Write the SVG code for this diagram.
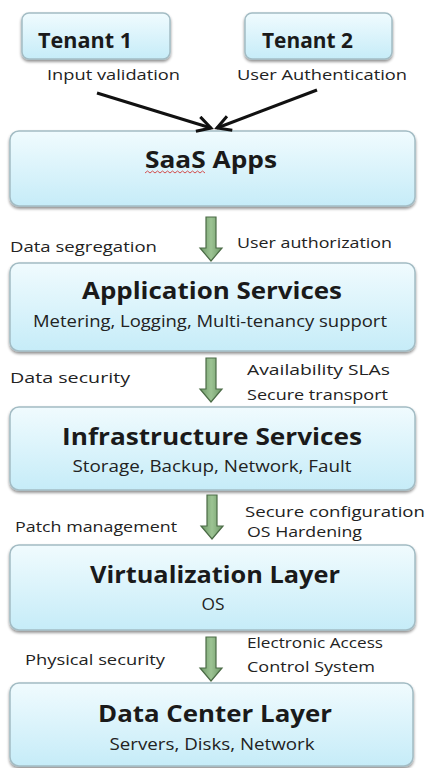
<svg xmlns="http://www.w3.org/2000/svg" xmlns:xlink="http://www.w3.org/1999/xlink" width="426" height="768" viewBox="0 0 426 768">
  <defs>
    <linearGradient id="boxFill" x1="0" y1="0" x2="0" y2="1">
      <stop offset="0" stop-color="#f0fbfe"/>
      <stop offset="1" stop-color="#c6ecf8"/>
    </linearGradient>
    <linearGradient id="greenFill" x1="0" y1="0" x2="1" y2="0">
      <stop offset="0" stop-color="#6d9967"/>
      <stop offset="0.5" stop-color="#9cc393"/>
      <stop offset="1" stop-color="#6d9967"/>
    </linearGradient>
    <filter id="shadow" x="-5%" y="-10%" width="110%" height="130%">
      <feGaussianBlur in="SourceAlpha" stdDeviation="1.5"/>
      <feOffset dx="0" dy="2" result="b"/>
      <feComponentTransfer><feFuncA type="linear" slope="0.45"/></feComponentTransfer>
      <feMerge><feMergeNode/><feMergeNode in="SourceGraphic"/></feMerge>
    </filter>
    <marker id="vhead" viewBox="0 0 12 12" refX="10" refY="6" markerWidth="6" markerHeight="6" orient="auto" markerUnits="strokeWidth">
      <path d="M1,1 L10,6 L1,11" fill="none" stroke="#111" stroke-width="2"/>
    </marker>
    <path id="garrow" d="M-5,0 H5 V31 H11 L0,44 L-11,31 H-5 Z"/>
  </defs>
  <style>
    .box { fill: url(#boxFill); stroke: #a3bcc4; stroke-width: 1.5; filter: url(#shadow); }
    .title { font-family: "Open Sans", "Liberation Sans", sans-serif; font-weight: bold; font-size: 24px; fill: #1a1a1a; text-anchor: middle; }
    .tenant { font-family: "Open Sans", "Liberation Sans", sans-serif; font-weight: bold; font-size: 21px; fill: #1a1a1a; }
    .sub { font-family: "Open Sans", "Liberation Sans", sans-serif; font-size: 16px; fill: #222; text-anchor: middle; }
    .lbl { font-family: "Open Sans", "Liberation Sans", sans-serif; font-size: 15px; fill: #222; }
    .blk { stroke: #111; stroke-width: 3; fill: none; marker-end: url(#vhead); }
    .grn { fill: url(#greenFill); stroke: #4b6b46; stroke-width: 1.2; }
  </style>
  <rect width="426" height="768" fill="#ffffff"/>

  <g id="tenant1">
    <rect class="box" x="22" y="13" width="148" height="46" rx="7"/>
    <text class="tenant" x="38" y="48" textLength="94" lengthAdjust="spacingAndGlyphs">Tenant 1</text>
  </g>
  <g id="tenant2">
    <rect class="box" x="245" y="13" width="147" height="46" rx="7"/>
    <text class="tenant" x="262" y="48" textLength="91" lengthAdjust="spacingAndGlyphs">Tenant 2</text>
  </g>

  <g id="saas">
    <rect class="box" x="10" y="131" width="405" height="75" rx="9"/>
    <text class="title" x="211" y="168" textLength="132" lengthAdjust="spacingAndGlyphs">SaaS Apps</text>
    <path d="M145,173 l2.5,-2 l2.5,2 l2.5,-2 l2.5,2 l2.5,-2 l2.5,2 l2.5,-2 l2.5,2 l2.5,-2 l2.5,2 l2.5,-2 l2.5,2 l2.5,-2 l2.5,2 l2.5,-2 l2.5,2 l2.5,-2 l2.5,2 l2.5,-2 l2.5,2 l2.5,-2 l2.5,2 l2.5,-2 l2.5,2" fill="none" stroke="#d23c3c" stroke-width="0.9"/>
  </g>

  <g id="appservices">
    <rect class="box" x="10" y="263" width="405" height="88" rx="9"/>
    <text class="title" x="212" y="299" textLength="260" lengthAdjust="spacingAndGlyphs">Application Services</text>
    <text class="sub" x="210" y="327" textLength="354" lengthAdjust="spacingAndGlyphs">Metering, Logging, Multi-tenancy support</text>
  </g>

  <g id="infraservices">
    <rect class="box" x="10" y="407" width="405" height="83" rx="9"/>
    <text class="title" x="212" y="445" textLength="300" lengthAdjust="spacingAndGlyphs">Infrastructure Services</text>
    <text class="sub" x="212" y="472" textLength="279" lengthAdjust="spacingAndGlyphs">Storage, Backup, Network, Fault</text>
  </g>

  <g id="virtualization">
    <rect class="box" x="10" y="545" width="405" height="85" rx="9"/>
    <text class="title" x="215" y="583" textLength="250" lengthAdjust="spacingAndGlyphs">Virtualization Layer</text>
    <text class="sub" x="213" y="610" textLength="23" lengthAdjust="spacingAndGlyphs">OS</text>
  </g>

  <g id="datacenter">
    <rect class="box" x="10" y="683" width="403" height="83" rx="9"/>
    <text class="title" x="215" y="722" textLength="234" lengthAdjust="spacingAndGlyphs">Data Center Layer</text>
    <text class="sub" x="212" y="750" textLength="205" lengthAdjust="spacingAndGlyphs">Servers, Disks, Network</text>
  </g>

  <g id="labels">
    <text class="lbl" x="47" y="80" textLength="133" lengthAdjust="spacingAndGlyphs">Input validation</text>
    <text class="lbl" x="237" y="80" textLength="170" lengthAdjust="spacingAndGlyphs">User Authentication</text>
    <text class="lbl" x="10" y="252" textLength="147" lengthAdjust="spacingAndGlyphs">Data segregation</text>
    <text class="lbl" x="237" y="248" textLength="155" lengthAdjust="spacingAndGlyphs">User authorization</text>
    <text class="lbl" x="10" y="383" textLength="120" lengthAdjust="spacingAndGlyphs">Data security</text>
    <text class="lbl" x="247" y="375" textLength="143" lengthAdjust="spacingAndGlyphs">Availability SLAs</text>
    <text class="lbl" x="247" y="400" textLength="141" lengthAdjust="spacingAndGlyphs">Secure transport</text>
    <text class="lbl" x="245" y="517" textLength="180" lengthAdjust="spacingAndGlyphs">Secure configuration</text>
    <text class="lbl" x="15" y="532" textLength="162" lengthAdjust="spacingAndGlyphs">Patch management</text>
    <text class="lbl" x="247" y="537" textLength="115" lengthAdjust="spacingAndGlyphs">OS Hardening</text>
    <text class="lbl" x="247" y="648" textLength="136" lengthAdjust="spacingAndGlyphs">Electronic Access</text>
    <text class="lbl" x="25" y="665" textLength="140" lengthAdjust="spacingAndGlyphs">Physical security</text>
    <text class="lbl" x="247" y="672" textLength="128" lengthAdjust="spacingAndGlyphs">Control System</text>
  </g>

  <g id="connectors">
    <line class="blk" x1="97" y1="93" x2="211" y2="128"/>
    <line class="blk" x1="317" y1="90" x2="217" y2="128"/>
    <use xlink:href="#garrow" class="grn" transform="translate(211,217)"/>
    <use xlink:href="#garrow" class="grn" transform="translate(211,358)"/>
    <use xlink:href="#garrow" class="grn" transform="translate(212,495)"/>
    <use xlink:href="#garrow" class="grn" transform="translate(211,637)"/>
  </g>
</svg>
